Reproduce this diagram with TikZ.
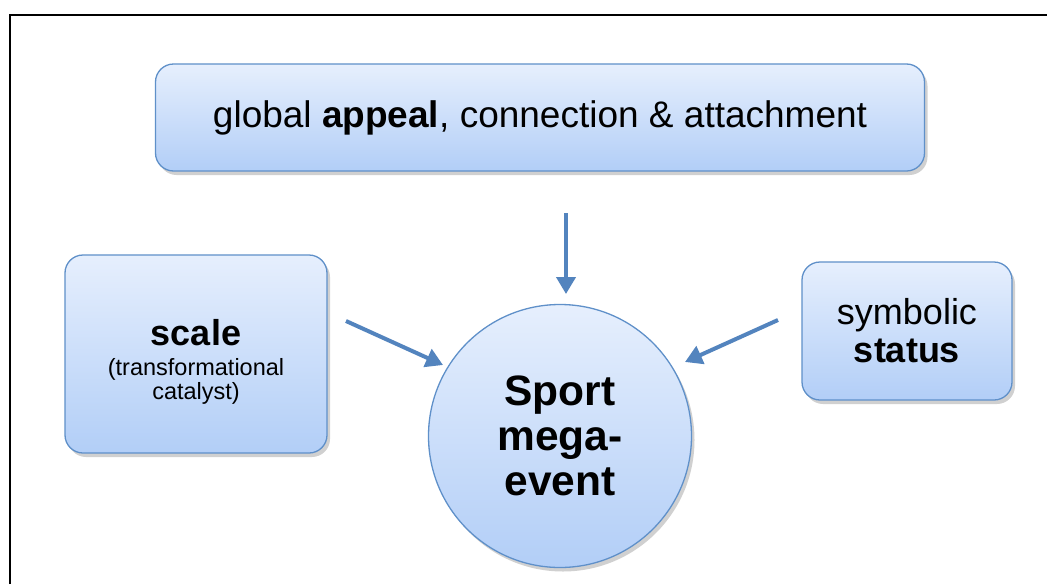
\documentclass[tikz,border=0pt]{standalone}
\usepackage{fontspec}
\setmainfont{Liberation Sans}
\usetikzlibrary{arrows.meta,shadows,shadings}
\definecolor{boxtop}{HTML}{E6EFFD}
\definecolor{boxbot}{HTML}{B2CEF7}
\definecolor{boxline}{HTML}{5F90C9}
\definecolor{arrowc}{HTML}{5384BE}
\tikzset{
  panel/.style={draw=boxline, line width=1.3pt, top color=boxtop, bottom color=boxbot,
    rounded corners=18pt, align=center, inner sep=0pt,
    drop shadow={shadow xshift=3pt, shadow yshift=-4pt, opacity=0.3, fill=black!60}},
  hub/.style={circle, draw=boxline, line width=1.3pt, top color=boxtop, bottom color=boxbot,
    align=center, inner sep=0pt,
    drop shadow={shadow xshift=3pt, shadow yshift=-4pt, opacity=0.3, fill=black!60}},
  flow/.style={draw=arrowc, line width=4pt, -{Triangle[length=17pt,width=19pt]}}
}
\begin{document}
\begin{tikzpicture}[x=1pt,y=-1pt]
\useasboundingbox (0,0) rectangle (1047,584);
\fill[white] (0,0) rectangle (1047,584);
\draw[line width=1.6pt] (10,584) -- (10,15) -- (1047,15);
\node[panel, minimum width=769pt, minimum height=107pt,
  font=\fontsize{37pt}{42pt}\selectfont] (appeal) at (540,117.5)
  {global \textbf{appeal}, connection \& attachment};
\node[panel, minimum width=262pt, minimum height=198pt] (scale) at (196,354) {};
\node[align=center, inner sep=0pt, font=\fontsize{23.5pt}{24pt}\selectfont]
  (scalelbl) at ([yshift=-8pt]scale.center)
  {{\fontsize{36pt}{36pt}\selectfont\textbf{scale}}\\[6pt]
   (transformational\\catalyst)};
\node[panel, minimum width=210pt, minimum height=138pt,
  font=\fontsize{36pt}{38pt}\selectfont] (status) at (907,331)
  {symbolic\\\textbf{status}};
\node[hub, minimum size=263pt,
  font=\fontsize{42.5pt}{45pt}\selectfont\bfseries] (event) at (560,436)
  {Sport\\mega-\\event};
\coordinate (ta) at (566,213);
\coordinate (te) at (566,294);
\coordinate (la) at (346,321);
\coordinate (le) at (443,365);
\coordinate (ra) at (778,320);
\coordinate (re) at (685,362);
\draw[flow] (ta) -- (te);
\draw[flow] (la) -- (le);
\draw[flow] (ra) -- (re);
\end{tikzpicture}
\end{document}
